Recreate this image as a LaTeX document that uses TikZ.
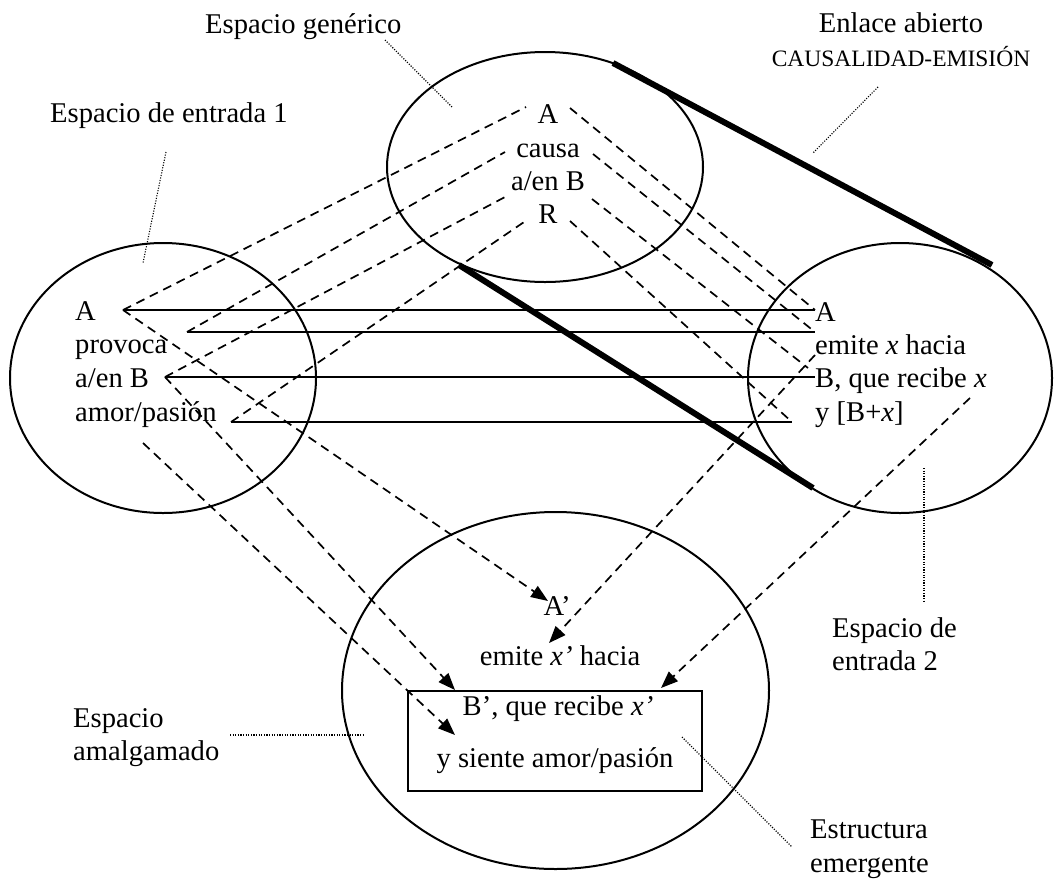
\documentclass[tikz,border=0pt]{standalone}
\usepackage{fontspec}
\setmainfont{Liberation Serif}
\usetikzlibrary{shapes.geometric,arrows.meta}

\begin{document}
\begin{tikzpicture}[x=1pt,y=-1pt,
  every node/.style={inner sep=0pt, font=\fontsize{28.6}{33.5}\selectfont},
  space/.style={draw, ellipse, line width=2pt},
  link/.style={line width=2pt},
  map/.style={line width=1.7pt, dash pattern=on 9pt off 6pt},
  proj/.style={map, -{Triangle[length=17pt,width=13pt]}},
  leader/.style={line width=1.1pt, dash pattern=on 1.1pt off 1.5pt},
  openlink/.style={line width=6pt},
  lbl/.style={anchor=base west},
  ctr/.style={anchor=base}]
\useasboundingbox (0,0) rectangle (1060,879);

% the four mental spaces
\node[space, minimum width=316pt, minimum height=230pt] (gen) at (545,167) {};
\node[space, minimum width=306pt, minimum height=270pt] (in1) at (163,378) {};
\node[space, minimum width=304pt, minimum height=270pt] (in2) at (900,378) {};
\node[space, minimum width=427pt, minimum height=357pt] (blend) at (555.5,690.5) {};
\node[draw, line width=2.2pt, minimum width=294pt, minimum height=100pt] (emerg) at (555,741) {};

% anchor points for the mappings
\coordinate (iA) at (123,310);
\coordinate (iProv) at (187,332);
\coordinate (iB) at (165,377);
\coordinate (iAmor) at (231,422);
\coordinate (iLow) at (143,443);
\coordinate (gA) at (526,107);
\coordinate (gCausa) at (505,152);
\coordinate (gEnB) at (505,197);
\coordinate (gR) at (527,220);
\coordinate (gAr) at (570,108);
\coordinate (gCausar) at (593,154);
\coordinate (gEnBr) at (592,199);
\coordinate (gRr) at (570,221);
\coordinate (oA) at (815,310);
\coordinate (oEmite) at (815,332);
\coordinate (oBd) at (808,368);
\coordinate (oB) at (815,377);
\coordinate (oY) at (792,422);
\coordinate (oEmiteL) at (815,355);
\coordinate (oRecibe) at (970,398);
\coordinate (bA) at (548,601);
\coordinate (bEmite) at (549,643);
\coordinate (bB) at (455,690);
\coordinate (bSiente) at (455,735);
\coordinate (bBr) at (661,688);

% cross-space counterpart connections
\draw[link] (iA) -- (oA);
\draw[link] (iProv) -- (oEmite);
\draw[link] (iB) -- (oB);
\draw[link] (iAmor) -- (oY);

% generic space to the inputs
\draw[map] (iA) -- (gA);
\draw[map] (iProv) -- (gCausa);
\draw[map] (iB) -- (gEnB);
\draw[map] (iAmor) -- (gR);
\draw[map] (gAr) -- (oA);
\draw[map] (gCausar) -- (oEmite);
\draw[map] (gEnBr) -- (oBd);
\draw[map] (gRr) -- (oY);

% projections into the blend
\draw[proj] (iA) -- (bA);
\draw[proj] (iB) -- (bB);
\draw[proj] (iLow) -- (bSiente);
\draw[proj] (oEmiteL) -- (bEmite);
\draw[proj] (oRecibe) -- (bBr);

% open links
\coordinate (t1) at (613,63);
\coordinate (t2) at (992,265);
\coordinate (t3) at (459,265);
\coordinate (t4) at (813,488);
\draw[openlink] (t1) -- (t2);
\draw[openlink] (t3) -- (t4);

% generic space contents
\node[ctr] (gt1) at (548,123) {A};
\node[ctr] (gt2) at (548,157) {causa};
\node[ctr] (gt3) at (548,190) {a/en B};
\node[ctr] (gt4) at (548,223) {R};

% input 1 contents
\node[lbl] (it1) at (75,320) {A};
\node[lbl] (it2) at (75,353) {provoca};
\node[lbl] (it3) at (75,387) {a/en B};
\node[lbl] (it4) at (75,421) {amor/pasión};

% input 2 contents
\node[lbl] (ot1) at (815,321) {A};
\node[lbl] (ot2) at (815,354) {emite \textit{x} hacia};
\node[lbl] (ot3) at (815,387) {B, que recibe \textit{x}};
\node[lbl] (ot4) at (815,421) {y [B+\textit{x}]};

% blend contents
\node[ctr] (bt1) at (557,615) {A’};
\node[ctr] (bt2) at (560,665) {emite \textit{x’} hacia};
\node[ctr] (bt3) at (558,715) {B’, que recibe \textit{x’}};
\node[ctr] (bt4) at (555,767) {y siente amor/pasión};

% captions and their leaders
\node[lbl] (capGen) at (205,33) {Espacio genérico};
\node[lbl] (capIn1) at (50,122) {Espacio de entrada 1};
\node[ctr] (capOpen) at (901,32) {Enlace abierto};
\node[ctr, font=\fontsize{23.5}{28}\selectfont] (capOpen2) at (901,66) {CAUSALIDAD-EMISIÓN};
\node[lbl] (capIn2a) at (832,637) {Espacio de};
\node[lbl] (capIn2b) at (832,670) {entrada 2};
\node[lbl] (capBl1) at (73,727) {Espacio};
\node[lbl] (capBl2) at (73,760) {amalgamado};
\node[lbl] (capEm1) at (810,838) {Estructura};
\node[lbl] (capEm2) at (810,872) {emergente};

\coordinate (l1a) at (385,40);   \coordinate (l1b) at (452,107);
\coordinate (l2a) at (166,152);  \coordinate (l2b) at (143,263);
\coordinate (l3a) at (878,87);   \coordinate (l3b) at (813,153);
\coordinate (l4a) at (924,468);  \coordinate (l4b) at (924,602);
\coordinate (l5a) at (230,735);  \coordinate (l5b) at (363,735);
\coordinate (l6a) at (682,737);  \coordinate (l6b) at (792,847);
\draw[leader] (l1a) -- (l1b);
\draw[leader] (l2a) -- (l2b);
\draw[leader] (l3a) -- (l3b);
\draw[leader] (l4a) -- (l4b);
\draw[leader] (l5a) -- (l5b);
\draw[leader] (l6a) -- (l6b);
\end{tikzpicture}
\end{document}
